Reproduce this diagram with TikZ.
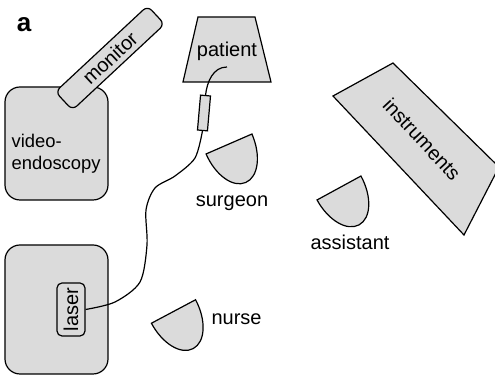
\documentclass[tikz,border=0pt]{standalone}
\usepackage{fontspec}
\setmainfont{Liberation Sans}
\definecolor{boxgray}{gray}{0.86}

\begin{document}
\begin{tikzpicture}[x=0.5pt,y=-0.5pt,line width=0.6pt,
				every node/.style={font=\fontsize{10}{12}\selectfont},
				unit/.style={rectangle,draw,fill=boxgray,rounded corners=7.5pt},
				panel/.style={rectangle,draw,fill=boxgray,rounded corners=2.5pt,inner sep=0pt},
				furniture/.style={draw,fill=boxgray},
				lbl/.style={inner sep=0pt},
				seat/.pic={\draw[furniture] (-25,0) -- (25,0) .. controls (25,23) and (14,42) .. (0,42) .. controls (-14,42) and (-25,23) .. (-25,0) -- cycle;}]
	\useasboundingbox (0,0) rectangle (495,378);
	\node[lbl,font=\fontsize{13}{15}\selectfont\bfseries] (tag) at (24,25) {a};
	% endoscopy cart and monitor
	\node[unit,minimum width=51.5pt,minimum height=56.5pt] (vendo) at (56.5,143.5) {};
	\node[lbl,anchor=west,align=left,font=\fontsize{9.2}{11}\selectfont] (vendotext) at (11,154) {video-\\endoscopy};
	\node[panel,rounded corners=3pt,minimum width=63pt,minimum height=12.5pt,rotate=43] (monitor) at (110,58) {monitor};
	% patient table
	\draw[furniture] (198,17) -- (255,17) -- (271,82) -- (183,82) -- cycle;
	\node[lbl,anchor=base] (patient) at (227,57) {patient};
	\coordinate (tip) at (227,67);
	\node[panel,rounded corners=0pt,minimum width=17.5pt,minimum height=5pt,rotate=85] (plug) at (204,113) {};
	% laser cart
	\node[unit,minimum width=51.5pt,minimum height=64.5pt] (laserunit) at (56.5,309.5) {};
	\node[panel,minimum width=26.5pt,minimum height=14pt,rotate=90] (laser) at (71,309.5) {laser};
	% fibre
	\draw (tip) .. controls (213,67) and (207,82) .. (plug.east);
	\draw plot[smooth] coordinates {(plug.west) (195,158) (175,176) (155,188) (146,210) (147,245) (140,282) (115,302) (laser.south)};
	% staff
	\pic[rotate=23.5] at (229,144) {seat};
	\node[lbl,anchor=base] (surgeon) at (232,207) {surgeon};
	\pic[rotate=28.6] at (339,188) {seat};
	\node[lbl,anchor=base] (assistant) at (350,250) {assistant};
	\pic[rotate=28] at (173.5,311.5) {seat};
	\node[lbl,anchor=base west] (nurse) at (211,325) {nurse};
	% instrument table
	\draw[furniture] (333,96) -- (393,63) -- (499,167) -- (464,235) -- cycle;
	\node[lbl,rotate=-47] (instruments) at (422,139) {instruments};
\end{tikzpicture}
\end{document}
